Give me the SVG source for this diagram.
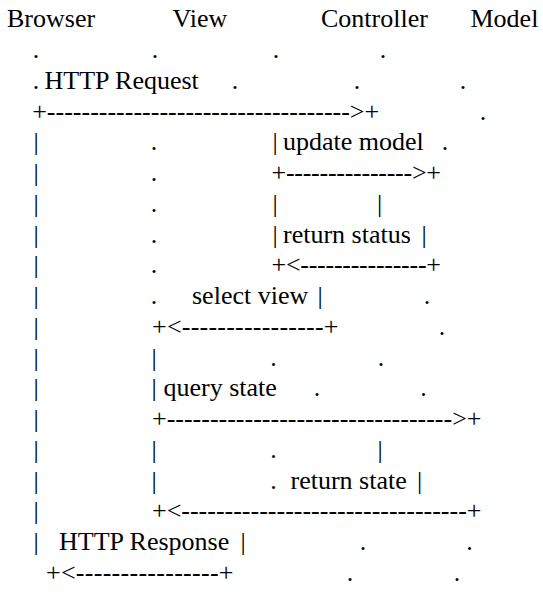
<svg xmlns="http://www.w3.org/2000/svg" width="543" height="607" viewBox="0 0 543 607">
  <style>
    text { font-family: "Liberation Serif", "Times New Roman", serif; font-size: 26px; fill: #000000; }
    .m { text-anchor: middle; }
  </style>
  <rect width="543" height="607" fill="#ffffff"/>

  <!-- participants -->
  <g id="browser"><text x="7" y="27">Browser</text></g>
  <g id="view"><text x="172.5" y="27">View</text></g>
  <g id="controller"><text x="321" y="27">Controller</text></g>
  <g id="model"><text x="470.5" y="27">Model</text></g>

  <!-- lifelines: one text per row, dots and bars placed absolutely -->
  <g id="lifelines">
    <text class="m" y="58"><tspan x="36">.</tspan><tspan x="155">.</tspan><tspan x="276">.</tspan><tspan x="383">.</tspan></text>
    <text class="m" y="88.8"><tspan x="36">.</tspan><tspan x="235">.</tspan><tspan x="357">.</tspan><tspan x="463">.</tspan></text>
    <text class="m" y="119.5"><tspan x="483">.</tspan></text>
    <text class="m" y="150.2"><tspan x="36">|</tspan><tspan x="154">.</tspan><tspan x="275">|</tspan><tspan x="445">.</tspan></text>
    <text class="m" y="181"><tspan x="36">|</tspan><tspan x="154">.</tspan></text>
    <text class="m" y="211.7"><tspan x="36">|</tspan><tspan x="154">.</tspan><tspan x="275">|</tspan><tspan x="379.5">|</tspan></text>
    <text class="m" y="242.5"><tspan x="36">|</tspan><tspan x="154">.</tspan><tspan x="275">|</tspan><tspan x="424">|</tspan></text>
    <text class="m" y="273.2"><tspan x="36">|</tspan><tspan x="154">.</tspan></text>
    <text class="m" y="304"><tspan x="36">|</tspan><tspan x="154">.</tspan><tspan x="320">|</tspan><tspan x="427">.</tspan></text>
    <text class="m" y="334.7"><tspan x="36">|</tspan><tspan x="442">.</tspan></text>
    <text class="m" y="365.5"><tspan x="36">|</tspan><tspan x="154">|</tspan><tspan x="273.5">.</tspan><tspan x="381">.</tspan></text>
    <text class="m" y="396.2"><tspan x="36">|</tspan><tspan x="154">|</tspan><tspan x="317">.</tspan><tspan x="423.5">.</tspan></text>
    <text class="m" y="427"><tspan x="36">|</tspan></text>
    <text class="m" y="457.7"><tspan x="36">|</tspan><tspan x="154">|</tspan><tspan x="273.5">.</tspan><tspan x="380">|</tspan></text>
    <text class="m" y="488.5"><tspan x="36">|</tspan><tspan x="154">|</tspan><tspan x="273.5">.</tspan><tspan x="419.5">|</tspan></text>
    <text class="m" y="519.2"><tspan x="36">|</tspan></text>
    <text class="m" y="550"><tspan x="36">|</tspan><tspan x="243">|</tspan><tspan x="363">.</tspan><tspan x="469.5">.</tspan></text>
    <text class="m" y="580.7"><tspan x="350">.</tspan><tspan x="457">.</tspan></text>
  </g>

  <!-- messages -->
  <g id="connectors">
    <text x="32.2" y="119.5" textLength="347" lengthAdjust="spacing">+----------------------------------->+</text>
    <text x="271.5" y="181" textLength="169.5" lengthAdjust="spacing">+--------------->+</text>
    <text x="271.5" y="273.2" textLength="169.5" lengthAdjust="spacing">+&lt;---------------+</text>
    <text x="152" y="334.7" textLength="186.5" lengthAdjust="spacing">+&lt;----------------+</text>
    <text x="152" y="427" textLength="329.5" lengthAdjust="spacing">+--------------------------------->+</text>
    <text x="152" y="519.2" textLength="329.5" lengthAdjust="spacing">+&lt;---------------------------------+</text>
    <text x="46" y="580.7" textLength="187.5" lengthAdjust="spacing">+&lt;----------------+</text>
  </g>

  <!-- message labels -->
  <g id="labels">
    <text x="44.5" y="88.8">HTTP Request</text>
    <text x="283" y="150.2">update model</text>
    <text x="283" y="242.5">return status</text>
    <text x="192" y="304">select view</text>
    <text x="163.5" y="396.2">query state</text>
    <text x="290.5" y="488.5">return state</text>
    <text x="59" y="550">HTTP Response</text>
  </g>
</svg>
